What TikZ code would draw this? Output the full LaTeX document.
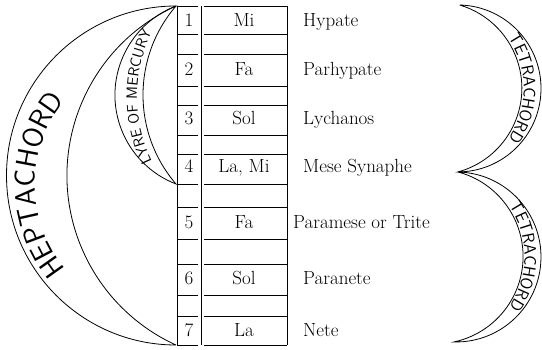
\documentclass[tikz,border=0pt]{standalone}
\usetikzlibrary{decorations.text}
\begin{document}
\begin{tikzpicture}[x=1pt,y=1pt,
  lab/.style={font=\fontsize{19}{19}\selectfont, inner sep=0pt, anchor=base},
  labw/.style={lab, anchor=base west},
  crescent/.style={draw, line width=0.8pt, line join=miter},
  rule/.style={line width=0.8pt},
  arctext/.style={decorate, decoration={text along path, text align=center, text={#1}}}
]
\useasboundingbox (0,0) rectangle (542,349);
% key points
\coordinate (hT) at (176,343);
\coordinate (hB) at (176,4);
\coordinate (lB) at (176,165);
\coordinate (tU) at (460,344);
\coordinate (tJ) at (458,177);
\coordinate (tL) at (454,7);
% Heptachord crescent
\draw[crescent] (hB) arc[start angle=-90,end angle=-270,radius=169.5pt]
   arc[start angle=114.5,end angle=245.5,radius=186.3pt];
% Lyre of Mercury crescent
\draw[crescent] (hT) arc[start angle=111.1,end angle=248.9,radius=95.4pt]
   arc[start angle=220.7,end angle=139.3,radius=136.5pt];
% Tetrachords
\draw[crescent] (tU) arc[start angle=88.3,end angle=-89.7,radius=83.5pt]
   arc[start angle=-74.7,end angle=73.5,radius=86.8pt];
\draw[crescent] (tJ) arc[start angle=88.65,end angle=-91.35,radius=85pt]
   arc[start angle=-77.9,end angle=75.2,radius=87.4pt];
% curved texts
\path[arctext={|\sffamily\fontsize{29}{29}\selectfont|HEPTACHORD}]
  (168.5,164) ++(228:133.5pt) arc[start angle=228,end angle=132,radius=133.5pt];
\path[arctext={|\sffamily\fontsize{15}{15}\selectfont|LYRE OF MERCURY}]
  (285,252) ++(207:148pt) arc[start angle=207,end angle=153,radius=148pt];
\path[arctext={|\sffamily\fontsize{17}{17}\selectfont|TETRACHORD}]
  (435.2,260.5) ++(38:88.5pt) arc[start angle=38,end angle=-38,radius=88.5pt];
\path[arctext={|\sffamily\fontsize{17}{17}\selectfont|TETRACHORD}]
  (435.6,92.5) ++(38:89pt) arc[start angle=38,end angle=-38,radius=89pt];
% table frame
\draw[rule] (177,4) -- (177,343);
\draw[rule] (201,4) -- (201,343);
\draw[rule] (287,4) -- (287,343);
\foreach \yy in {343,315,295,263,244,214,195,165,142,110,85,54,33,4}{
  \draw[rule] (177,\yy) -- (198,\yy);
  \draw[rule] (204,\yy) -- (287,\yy);
}
% rows
\foreach \n/\note/\name/\yy in {1/Mi/Hypate/322.5, 2/Fa/Parhypate/273, 3/Sol/Lychanos/224,
  4/{La, Mi}/Mese Synaphe/176, 6/Sol/Paranete/65, 7/La/Nete/13}{
  \node[lab] (num\n) at (189,\yy) {\n};
  \node[lab] (note\n) at (244,\yy) {\note};
  \node[labw] (name\n) at (303,\yy) {\name};
}
\node[lab] (num5) at (189,121) {5};
\node[lab] (note5) at (244,121) {Fa};
\node[labw] (name5) at (293,121) {Paramese or Trite};
\end{tikzpicture}
\end{document}
